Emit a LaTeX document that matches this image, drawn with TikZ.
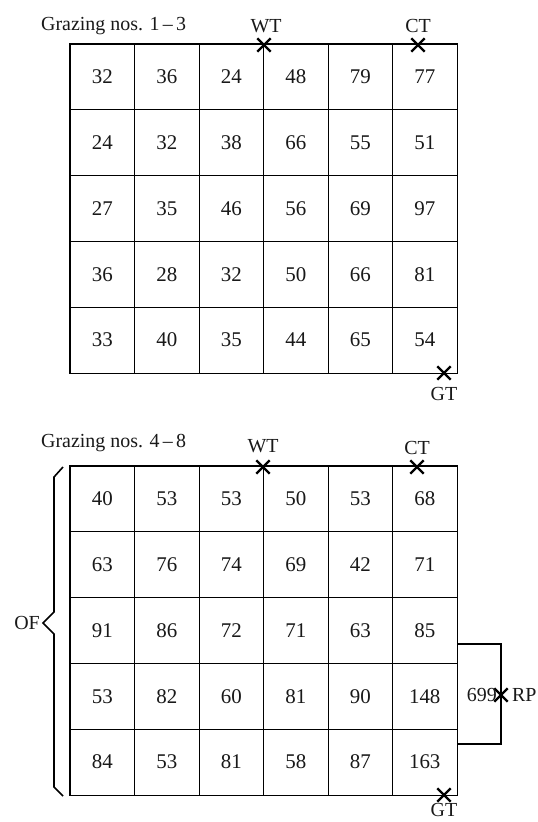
\documentclass[tikz,border=0pt]{standalone}
\usepackage{fontspec}
\setmainfont{Liberation Serif}
\usetikzlibrary{shapes.misc}
\begin{document}
\begin{tikzpicture}[x=1bp,y=-1bp,
  cell/.style={draw, line width=0.9bp, minimum width=64.5bp, minimum height=65.8bp, inner sep=0pt,
    font=\fontsize{21}{21}\selectfont, text=black!90},
  lbl/.style={inner sep=0pt, font=\fontsize{20}{20}\selectfont, text=black!90},
  border/.style={line width=1.8bp},
  xmark/.style={draw, cross out, minimum size=11bp, inner sep=0pt, line width=2.4bp},
  wire/.style={line width=1.6bp}]
\useasboundingbox[fill=white] (0,0) rectangle (538,822);
% top grid
\foreach \r/\vals in {1/{32,36,24,48,79,77},2/{24,32,38,66,55,51},3/{27,35,46,56,69,97},4/{36,28,32,50,66,81},5/{33,40,35,44,65,54}}{
  \foreach \v [count=\c] in \vals {
    \node[cell] (t-\r-\c) at ({70+64.5*(\c-0.5)},{44+65.8*(\r-0.5)}) {\v};
  }
}
\draw[border] (t-1-1.north west) rectangle (t-5-6.south east);
% bottom grid
\foreach \r/\vals in {1/{40,53,53,50,53,68},2/{63,76,74,69,42,71},3/{91,86,72,71,63,85},4/{53,82,60,81,90,148},5/{84,53,81,58,87,163}}{
  \foreach \v [count=\c] in \vals {
    \node[cell] (b-\r-\c) at ({70+64.5*(\c-0.5)},{466+65.8*(\r-0.5)}) {\v};
  }
}
\draw[border] (b-1-1.north west) rectangle (b-5-6.south east);
% labels top
\node[lbl, anchor=west] (g1) at (41,26) {Grazing nos. 1\,–\,3};
\node[lbl] (wt1l) at (266,26) {WT};
\node[lbl] (ct1l) at (418,26) {CT};
\node[xmark] (wt1) at (264,45) {};
\node[xmark] (ct1) at (418,45) {};
\node[xmark] (gt1) at (444,373) {};
\node[lbl] (gt1l) at (444,394) {GT};
% labels bottom
\node[lbl, anchor=west] (g2) at (41,443) {Grazing nos. 4\,–\,8};
\node[lbl] (wt2l) at (263,446) {WT};
\node[lbl] (ct2l) at (417,448) {CT};
\node[xmark] (wt2) at (263,467) {};
\node[xmark] (ct2) at (417,467) {};
\node[xmark] (gt2) at (444,795) {};
\node[lbl] (gt2l) at (444,810) {GT};
% RP bracket
\coordinate (rp) at (501,695);
\coordinate (rpa) at (457,644);
\coordinate (rpb) at (457,744);
\draw[wire] (rpa) -- (rpa -| rp) -- (rpb -| rp) -- (rpb);
\node[xmark] (rpx) at (rp) {};
\node[lbl, anchor=east] (n699) at (497,695) {699};
\node[lbl, anchor=west] (rpl) at (512,695) {RP};
% OF brace
\draw[wire] (63,467) -- (54,477) -- (54,612) -- (43,623) -- (54,634) -- (54,787) -- (63,796);
\node[lbl, anchor=east] (of) at (40,623) {OF};
\end{tikzpicture}
\end{document}
